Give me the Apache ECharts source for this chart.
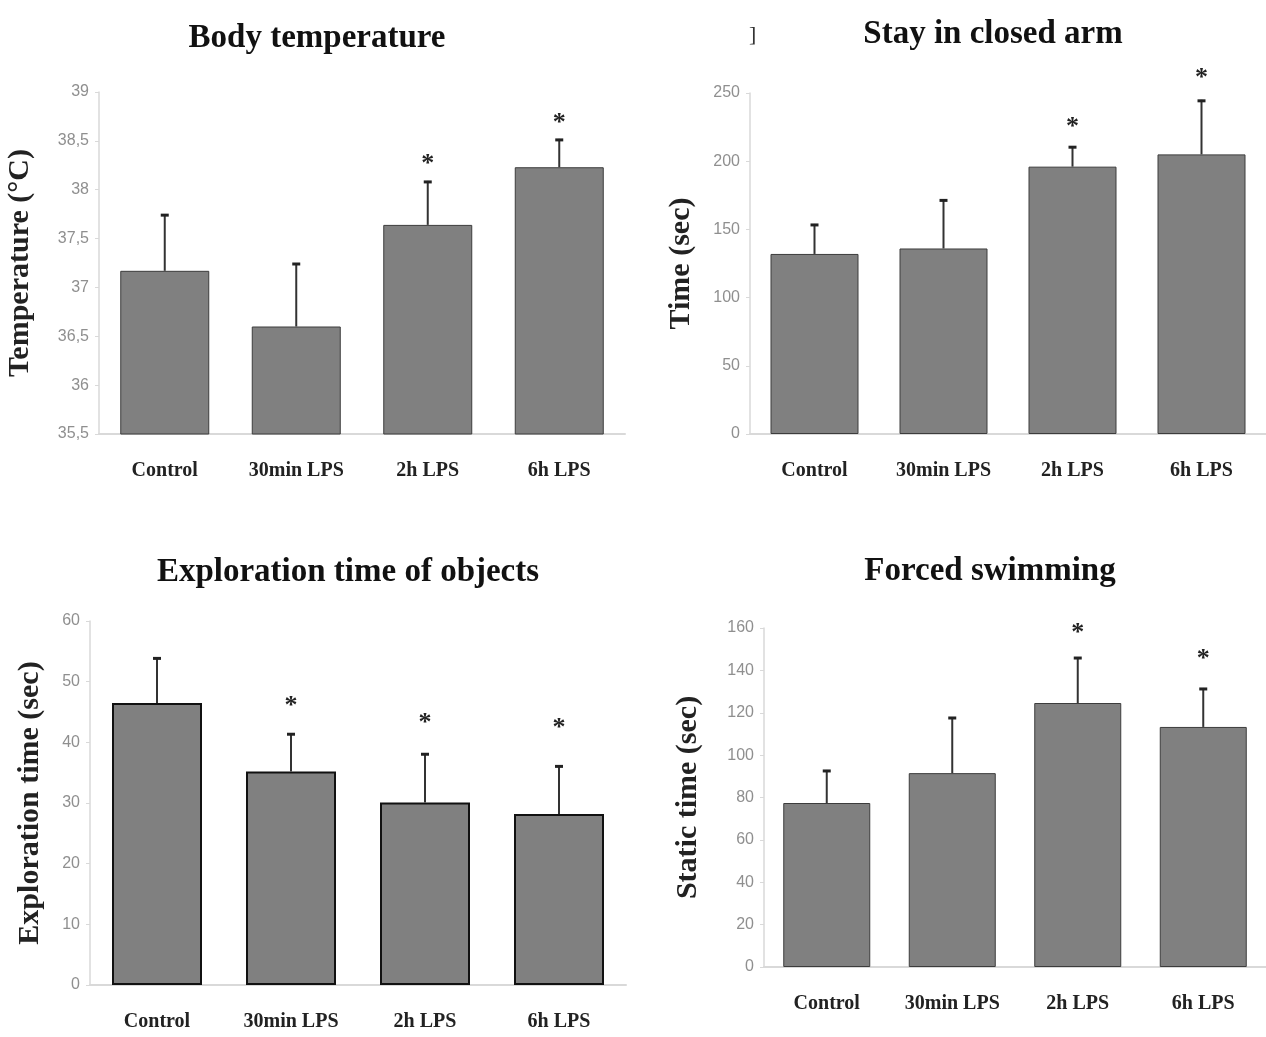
<!DOCTYPE html>
<html>
<head>
<meta charset="utf-8">
<script src="https://cdn.jsdelivr.net/npm/echarts@6/dist/echarts.min.js"></script>
<style>
  html, body { margin: 0; padding: 0; background: #fff; }
  #chart { width: 1266px; height: 1037px; }
</style>
</head>
<body>
<div id="chart"></div>
<script>
// groups on the x axis, same for all four panels
var categories = ['Control', '30min LPS', '2h LPS', '6h LPS'];

// Body temperature (mean, top of error bar, star position)
var tempMean = [37.17, 36.6, 37.64, 38.23];
var tempErr = [37.75, 37.25, 38.09, 38.52];
var tempStar = [null, null, 38.32, 38.74];

// Stay in closed arm
var armMean = [132, 136, 196, 205];
var armErr = [154, 172, 211, 245];
var armStar = [null, null, 229, 265];

// Exploration time of objects
var exploreMean = [46.5, 35.2, 30.1, 28.2];
var exploreErr = [54, 41.5, 38.2, 36.2];
var exploreStar = [null, 47, 44.2, 43.3];

// Forced swimming
var swimMean = [77.4, 91.5, 124.6, 113.3];
var swimErr = [93, 118, 146.3, 131.7];
var swimStar = [null, null, 160.5, 148.2];

var serif = '"Liberation Serif", "Times New Roman", serif';
var tickFont = '"Liberation Sans Narrow", "Liberation Sans", sans-serif';

var panels = [
    { title: 'Body temperature', name: 'Temperature (\u00b0C)', mean: tempMean, err: tempErr, star: tempStar,
      min: 35.5, max: 39, interval: 0.5, comma: true,
      grid: { left: 99, right: 641, top: 92, bottom: 603 }, titlePos: [312, 17], nameGap: 64, barWidth: 89, border: 1 },
    { title: 'Stay in closed arm', name: 'Time (sec)', mean: armMean, err: armErr, star: armStar,
      min: 0, max: 250, interval: 50,
      grid: { left: 750, right: -9, top: 93, bottom: 603 }, titlePos: [988, 13], nameGap: 54, barWidth: 88, border: 1 },
    { title: 'Exploration time of objects', name: 'Exploration time (sec)', mean: exploreMean, err: exploreErr, star: exploreStar,
      min: 0, max: 60, interval: 10,
      grid: { left: 90, right: 640, top: 621, bottom: 52 }, titlePos: [343, 551], nameGap: 45, barWidth: 90, border: 2 },
    { title: 'Forced swimming', name: 'Static time (sec)', mean: swimMean, err: swimErr, star: swimStar,
      min: 0, max: 160, interval: 20,
      grid: { left: 764, right: -10, top: 628, bottom: 70 }, titlePos: [985, 550], nameGap: 61, barWidth: 87, border: 1 }
];

var option = {
    animation: false,
    backgroundColor: '#fff',
    title: [],
    grid: [],
    xAxis: [],
    yAxis: [],
    series: [],
    graphic: [{
        type: 'text', left: 749, top: 24,
        style: { text: ']', font: '22px ' + serif, fill: '#333' }
    }]
};

panels.forEach(function (p, k) {
    option.title.push({
        text: p.title,
        left: p.titlePos[0], top: p.titlePos[1],
        textAlign: 'center',
        textStyle: { fontFamily: serif, fontWeight: 'bold', fontSize: 33, color: '#111' }
    });
    option.grid.push(p.grid);
    option.xAxis.push({
        type: 'category', gridIndex: k, data: categories,
        axisLine: { lineStyle: { color: '#d9d9d9', width: 2 } },
        axisTick: { show: false },
        axisLabel: { margin: 27, fontFamily: serif, fontWeight: 'bold', fontSize: 20, color: '#222' }
    });
    option.yAxis.push({
        type: 'value', gridIndex: k, min: p.min, max: p.max, interval: p.interval,
        name: p.name, nameLocation: 'middle', nameGap: p.nameGap,
        nameTextStyle: { fontFamily: serif, fontWeight: 'bold', fontSize: 30, color: '#222' },
        axisLine: { show: true, lineStyle: { color: '#d9d9d9', width: 1.5 } },
        axisTick: { show: true, length: 4, lineStyle: { color: '#d9d9d9' } },
        splitLine: { show: false },
        axisLabel: {
            margin: 10, fontFamily: tickFont, fontSize: 16, color: '#8f8f8f',
            formatter: function (v) { return p.comma ? String(v).replace('.', ',') : String(v); }
        }
    });
    option.series.push({
        type: 'bar', xAxisIndex: k, yAxisIndex: k,
        data: p.mean, barWidth: p.barWidth,
        itemStyle: { color: '#808080', borderColor: p.border > 1 ? '#111' : '#3c3c3c', borderWidth: p.border }
    });
    // upper error bars
    option.series.push({
        type: 'custom', xAxisIndex: k, yAxisIndex: k, clip: false,
        data: p.mean.map(function (m, i) { return [i, p.err[i], m]; }),
        renderItem: function (params, api) {
            var top = api.coord([api.value(0), api.value(1)]);
            var base = api.coord([api.value(0), api.value(2)]);
            return {
                type: 'group',
                children: [
                    { type: 'line', shape: { x1: top[0], y1: base[1], x2: top[0], y2: top[1] },
                      style: { stroke: '#333', lineWidth: 2 } },
                    { type: 'line', shape: { x1: top[0] - 4, y1: top[1] + 1, x2: top[0] + 4, y2: top[1] + 1 },
                      style: { stroke: '#222', lineWidth: 3 } }
                ]
            };
        },
        z: 3
    });
    // significance stars
    option.series.push({
        type: 'custom', xAxisIndex: k, yAxisIndex: k, clip: false,
        data: p.star.map(function (s, i) { return s == null ? null : [i, s]; }).filter(function (d) { return d; }),
        renderItem: function (params, api) {
            var pt = api.coord([api.value(0), api.value(1)]);
            return {
                type: 'text',
                style: { text: '*', x: pt[0], y: pt[1] + 6, align: 'center', verticalAlign: 'middle',
                         font: 'bold 26px ' + serif, fill: '#222' }
            };
        },
        z: 4
    });
});

var chart = echarts.init(document.getElementById('chart'));
chart.setOption(option);
</script>
</body>
</html>
